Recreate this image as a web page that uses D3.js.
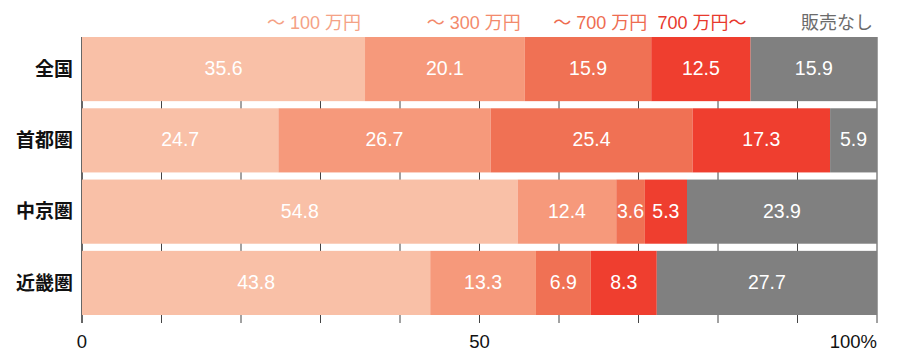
<!DOCTYPE html>
<html>
<head>
<meta charset="utf-8">
<script src="https://cdn.jsdelivr.net/npm/d3@7"></script>
<style>
  html, body { margin: 0; padding: 0; background: #fff; }
  svg text { font-family: "Liberation Sans", Arial, "Noto Sans CJK JP", sans-serif; }
</style>
</head>
<body>
<svg id="chart" width="897" height="352"></svg>
<script>
// Regions (rows) and price brackets (stacked series)
const regions = ["全国", "首都圏", "中京圏", "近畿圏"];
const brackets = ["～ 100 万円", "～ 300 万円", "～ 700 万円", "700 万円～", "販売なし"];
const barColors = ["#f9c0a7", "#f6997b", "#f07154", "#ef3e2f", "#808080"];
const legendColors = ["#f5a286", "#f38a6c", "#ee6c50", "#e8392d", "#6b6b6b"];

// Share (%) of each bracket per region
const zenkoku = [35.6, 20.1, 15.9, 12.5, 15.9];
const shutoken = [24.7, 26.7, 25.4, 17.3, 5.9];
const chukyoken = [54.8, 12.4, 3.6, 5.3, 23.9];
const kinkiken = [43.8, 13.3, 6.9, 8.3, 27.7];
const values = [zenkoku, shutoken, chukyoken, kinkiken];

const tickValues = [0, 10, 20, 30, 40, 50, 60, 70, 80, 90, 100];
const tickLabels = { 0: "0", 50: "50", 100: "100%" };

const svg = d3.select("#chart");

const x = d3.scaleLinear().domain([0, 100]).range([82, 877]);
const y = d3.scaleBand().domain(regions).range([37, 315]).paddingInner(0.1).paddingOuter(0);

// Build stacked segments
const rows = regions.map((r, i) => {
  let acc = 0;
  return values[i].map((v, j) => {
    const seg = { region: r, key: j, x0: acc, x1: acc + v, v };
    acc += v;
    return seg;
  });
});

// Grid lines behind the bars, extending below as ticks
svg.append("g")
  .selectAll("line")
  .data(tickValues)
  .join("line")
  .attr("x1", d => x(d)).attr("x2", d => x(d))
  .attr("y1", 37).attr("y2", 323)
  .attr("stroke", d => d === 0 ? "#333" : "#444")
  .attr("stroke-width", d => d === 0 ? 1.5 : 1);

// Bars
const rowG = svg.append("g")
  .selectAll("g")
  .data(rows)
  .join("g");

rowG.selectAll("rect")
  .data(d => d)
  .join("rect")
  .attr("x", d => x(d.x0))
  .attr("width", d => x(d.x1) - x(d.x0))
  .attr("y", d => y(d.region))
  .attr("height", y.bandwidth())
  .attr("fill", d => barColors[d.key]);

rowG.selectAll("text")
  .data(d => d)
  .join("text")
  .attr("x", d => (x(d.x0) + x(d.x1)) / 2)
  .attr("y", d => y(d.region) + y.bandwidth() / 2 - 1)
  .attr("dy", "0.36em")
  .attr("text-anchor", "middle")
  .attr("fill", "#fff")
  .attr("font-size", 19.5)
  .text(d => d.v.toFixed(1));

// Region labels
svg.append("g")
  .selectAll("text")
  .data(regions)
  .join("text")
  .attr("x", 73)
  .attr("y", d => y(d) + y.bandwidth() / 2)
  .attr("dy", "0.36em")
  .attr("text-anchor", "end")
  .attr("font-size", 19)
  .attr("font-weight", "bold")
  .attr("fill", "#111")
  .text(d => d);

// Legend: labels right-aligned at the end of each segment of the first row
svg.append("g")
  .selectAll("text")
  .data(rows[0])
  .join("text")
  .attr("x", d => x(d.x1) - 4)
  .attr("y", 23)
  .attr("dy", "0.36em")
  .attr("text-anchor", "end")
  .attr("font-size", 18)
  .attr("fill", d => legendColors[d.key])
  .text(d => brackets[d.key]);

// Axis labels
svg.append("g")
  .selectAll("text")
  .data(tickValues.filter(t => tickLabels[t] !== undefined))
  .join("text")
  .attr("x", d => x(d))
  .attr("y", 341)
  .attr("dy", "0.36em")
  .attr("text-anchor", d => d === 100 ? "end" : "middle")
  .attr("font-size", 18.5)
  .attr("fill", "#111")
  .text(d => tickLabels[d]);
</script>
</body>
</html>
